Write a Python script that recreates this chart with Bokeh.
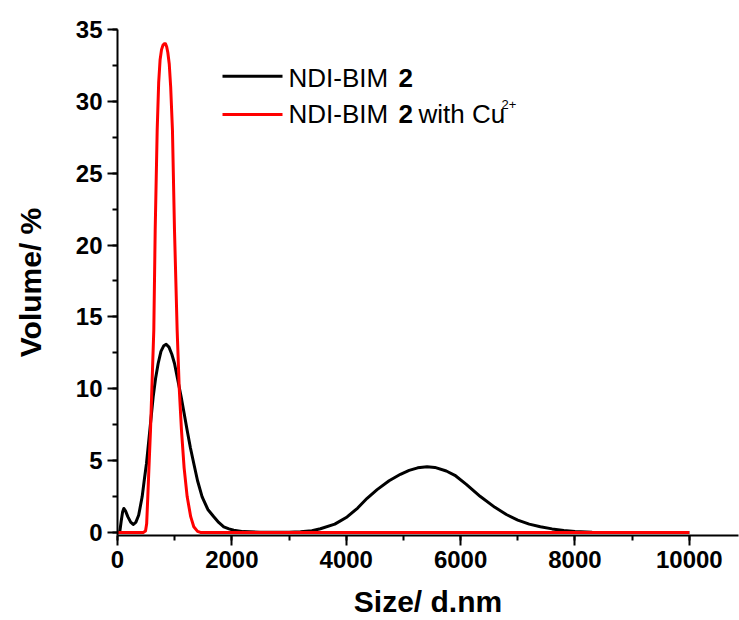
from bokeh.plotting import figure
from bokeh.models import Range1d, SingleIntervalTicker, Label
from bokeh.embed import file_html
from bokeh.resources import INLINE

# ---------------- data ----------------
black_size = [0, 40, 65, 90, 110, 140, 180, 230, 274, 320, 370, 431, 470, 507, 565,
              624, 665, 711, 760, 810, 851, 900, 950, 997, 1050, 1113, 1165, 1218,
              1275, 1334, 1400, 1480, 1580, 1684, 1770, 1858, 1950, 2033, 2200, 2500,
              3000, 3200, 3400, 3549, 3800, 4015, 4200, 4365, 4540, 4750, 4948, 5100,
              5250, 5414, 5550, 5750, 5900, 6100, 6346, 6600, 6800, 7000, 7200, 7395,
              7600, 7803, 8000, 8300, 8600, 10000]
black_vol = [0, 0.05, 0.8, 1.45, 1.67, 1.5, 1.1, 0.72, 0.56, 0.7, 1.2, 2.48, 3.7, 4.8, 7.1,
             9.44, 10.7, 11.76, 12.6, 13.0, 13.1, 12.9, 12.4, 11.76, 10.7, 9.44, 8.3, 7.12,
             5.9, 4.8, 3.6, 2.48, 1.6, 1.09, 0.7, 0.39, 0.25, 0.16, 0.06, 0.02,
             0.02, 0.05, 0.12, 0.26, 0.58, 1.08, 1.7, 2.38, 2.98, 3.6, 4.05, 4.32,
             4.5, 4.57, 4.53, 4.28, 3.98, 3.35, 2.5, 1.75, 1.25, 0.86, 0.58, 0.4,
             0.25, 0.14, 0.07, 0.02, 0, 0]

red_size = [0, 450, 490, 510, 530, 555, 577, 605, 635, 659, 694, 720, 745, 770, 795,
            815, 827, 840, 860, 880, 905, 930, 961, 997, 1043, 1080, 1119, 1165, 1218,
            1280, 1334, 1400, 1450, 10000]
red_vol = [0, 0, 0.1, 0.6, 2.5, 5.0, 7.1, 10.5, 14.1, 21.0, 28.0, 31.3, 32.9, 33.6, 33.9,
           34.0, 34.0, 34.0, 33.8, 33.4, 32.6, 31.0, 28.0, 21.0, 14.1, 10.0, 7.1, 4.5, 2.5,
           1.1, 0.4, 0.08, 0, 0]

x_ticks_interval = 2000
y_ticks_interval = 5
x_label = "Size/ d.nm"
y_label = "Volume/ %"
legend_names = ["NDI-BIM", "2", "with Cu", "2+"]

# ---------------- figure ----------------
W, H = 739, 620
BL, BR, BT, BB = 117, 1, 29, 85
X0, X1 = 0, 10860
Y0, Y1 = -0.21, 35

p = figure(width=W, height=H, x_range=Range1d(X0, X1), y_range=Range1d(Y0, Y1),
           output_backend="svg", toolbar_location=None,
           min_border_left=BL, min_border_right=BR, min_border_top=BT, min_border_bottom=BB)
p.outline_line_color = None
p.grid.visible = False
p.background_fill_color = "white"
p.border_fill_color = "white"

FONT = "Liberation Sans"

p.xaxis.ticker = SingleIntervalTicker(interval=x_ticks_interval, num_minor_ticks=2)
p.yaxis.ticker = SingleIntervalTicker(interval=y_ticks_interval, num_minor_ticks=2)
for ax in (p.xaxis[0], p.yaxis[0]):
    ax.axis_line_width = 2
    ax.major_tick_line_width = 2
    ax.minor_tick_line_width = 2
    ax.major_tick_out = 10
    ax.major_tick_in = 0
    ax.minor_tick_out = 5
    ax.minor_tick_in = 0
    ax.major_label_text_font = FONT
    ax.major_label_text_font_style = "bold"
    ax.major_label_text_font_size = "24px"
    ax.major_label_text_color = "black"
    ax.axis_label_text_font = FONT
    ax.axis_label_text_font_style = "bold"
    ax.axis_label_text_font_size = "30px"
    ax.axis_label_text_color = "black"
    ax.major_label_standoff = 5
p.xaxis.axis_label = x_label
p.yaxis.axis_label = y_label
p.xaxis.axis_label_standoff = 14
p.yaxis.axis_label_standoff = 26

p.line(black_size, black_vol, line_color="black", line_width=3, line_join="round")
p.line(red_size, red_vol, line_color="#ff0000", line_width=3, line_join="round")

# ---------------- manual legend ----------------
FW = W - BL - BR
FH = H - BT - BB


def dx(px):
    return X0 + (px - BL) / FW * (X1 - X0)


def dy(py):
    return Y0 + (BT + FH - py) / FH * (Y1 - Y0)


p.line([dx(222), dx(282)], [dy(75.7), dy(75.7)], line_color="black", line_width=3)
p.line([dx(222), dx(282)], [dy(114), dy(114)], line_color="#ff0000", line_width=3)


def lab(txt, px, py, size="26px", style="normal"):
    p.add_layout(Label(x=dx(px), y=dy(py), text=txt, text_font=FONT, text_font_size=size,
                       text_font_style=style, text_baseline="middle", text_align="left",
                       text_color="black"))


lab(legend_names[0], 288, 77.5)
lab(legend_names[1], 398, 77.5, style="bold")
lab(legend_names[0], 288, 113.5)
lab(legend_names[1], 398, 113.5, style="bold")
lab(legend_names[2], 418, 113.5)
lab(legend_names[3], 501, 104, size="13px")

open("out.html", "w").write(file_html(p, INLINE))
